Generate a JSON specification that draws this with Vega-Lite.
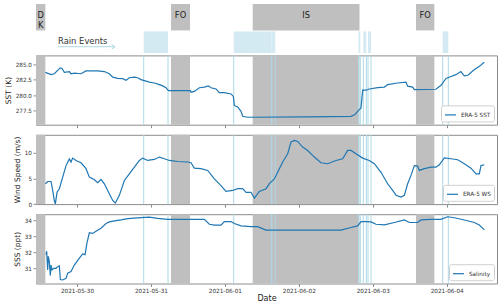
{
  "$schema": "https://vega.github.io/schema/vega-lite/v6.json",
  "padding": {"left": 3, "top": 4, "right": 4, "bottom": 2},
  "bounds": "flush",
  "spacing": 9.4,
  "config": {
    "font": "DejaVu Sans",
    "view": {"stroke": "#8c8c8c", "strokeWidth": 1},
    "axis": {"grid": false, "domain": false, "tickColor": "#8c8c8c", "tickSize": 3, "labelFontSize": 5.7, "labelColor": "#333333", "titleFontSize": 7.5, "titleFontWeight": "normal", "titleColor": "#222222", "labelPadding": 1.5, "titlePadding": 3},
    "legend": {"orient": "bottom-right", "offset": 3, "padding": 3, "fillColor": "#ffffff", "strokeColor": "#d0d0d0", "cornerRadius": 2, "labelFontSize": 5.7, "labelColor": "#333333", "symbolType": "stroke", "symbolStrokeWidth": 1.2, "symbolSize": 121, "title": null, "labelOffset": 4}
  },
  "datasets": {
    "phases": [
      {"phase": "D\nK", "start": "2021-05-29T10:41", "end": "2021-05-29T13:43", "mid": "2021-05-29T12:12"},
      {"phase": "FO", "start": "2021-05-31T06:31", "end": "2021-05-31T12:41", "mid": "2021-05-31T09:36"},
      {"phase": "IS", "start": "2021-06-01T09:02", "end": "2021-06-02T19:42", "mid": "2021-06-02T02:22"},
      {"phase": "FO", "start": "2021-06-03T14:02", "end": "2021-06-03T20:00", "mid": "2021-06-03T17:01"}
    ],
    "rain": [
      {"start": "2021-05-30T21:39", "end": "2021-05-31T05:32"},
      {"start": "2021-06-01T02:52", "end": "2021-06-01T15:12"},
      {"start": "2021-06-01T15:12", "end": "2021-06-01T16:22"},
      {"start": "2021-06-02T19:23", "end": "2021-06-02T19:58"},
      {"start": "2021-06-02T20:56", "end": "2021-06-02T21:55"},
      {"start": "2021-06-02T22:28", "end": "2021-06-02T23:26"},
      {"start": "2021-06-03T22:42", "end": "2021-06-04T00:32"}
    ],
    "sst": [
      {"t": "2021-05-29T13:43", "v": 283.67}, {"t": "2021-05-29T15:34", "v": 283.3}, {"t": "2021-05-29T16:38", "v": 283.45},
      {"t": "2021-05-29T17:43", "v": 284.0}, {"t": "2021-05-29T18:35", "v": 284.4}, {"t": "2021-05-29T19:08", "v": 284.3},
      {"t": "2021-05-29T19:53", "v": 283.67}, {"t": "2021-05-29T21:31", "v": 283.8}, {"t": "2021-05-29T22:03", "v": 283.45},
      {"t": "2021-05-29T23:08", "v": 283.55}, {"t": "2021-05-30T01:18", "v": 283.45}, {"t": "2021-05-30T02:55", "v": 283.9},
      {"t": "2021-05-30T04:32", "v": 283.9}, {"t": "2021-05-30T06:43", "v": 283.9}, {"t": "2021-05-30T08:52", "v": 283.8},
      {"t": "2021-05-30T10:30", "v": 283.45}, {"t": "2021-05-30T11:35", "v": 282.9}, {"t": "2021-05-30T13:12", "v": 282.7},
      {"t": "2021-05-30T14:49", "v": 282.65}, {"t": "2021-05-30T15:55", "v": 282.4}, {"t": "2021-05-30T16:59", "v": 282.8},
      {"t": "2021-05-30T18:37", "v": 282.9}, {"t": "2021-05-30T19:41", "v": 282.8}, {"t": "2021-05-30T20:46", "v": 282.5},
      {"t": "2021-05-30T21:52", "v": 282.35}, {"t": "2021-05-30T23:29", "v": 282.1}, {"t": "2021-05-31T01:06", "v": 281.96},
      {"t": "2021-05-31T02:44", "v": 281.7}, {"t": "2021-05-31T03:49", "v": 281.5}, {"t": "2021-05-31T04:53", "v": 281.2},
      {"t": "2021-05-31T05:39", "v": 280.74}, {"t": "2021-05-31T12:47", "v": 280.74}, {"t": "2021-05-31T13:00", "v": 280.48},
      {"t": "2021-05-31T14:05", "v": 280.6}, {"t": "2021-05-31T15:43", "v": 281.2}, {"t": "2021-05-31T17:20", "v": 281.3},
      {"t": "2021-05-31T18:38", "v": 281.5}, {"t": "2021-05-31T19:30", "v": 281.2}, {"t": "2021-05-31T21:07", "v": 281.0},
      {"t": "2021-05-31T22:12", "v": 280.4}, {"t": "2021-05-31T23:49", "v": 280.4}, {"t": "2021-06-01T01:59", "v": 280.2},
      {"t": "2021-06-01T02:45", "v": 279.8}, {"t": "2021-06-01T03:04", "v": 278.35}, {"t": "2021-06-01T04:09", "v": 278.1},
      {"t": "2021-06-01T05:14", "v": 277.4}, {"t": "2021-06-01T05:47", "v": 276.6}, {"t": "2021-06-01T07:24", "v": 276.45},
      {"t": "2021-06-02T02:52", "v": 276.5}, {"t": "2021-06-02T16:56", "v": 276.6}, {"t": "2021-06-02T18:14", "v": 276.9},
      {"t": "2021-06-02T19:06", "v": 277.4}, {"t": "2021-06-02T20:11", "v": 277.95}, {"t": "2021-06-02T20:44", "v": 280.8},
      {"t": "2021-06-02T21:49", "v": 280.8}, {"t": "2021-06-02T22:53", "v": 281.0}, {"t": "2021-06-03T01:36", "v": 281.2},
      {"t": "2021-06-03T03:46", "v": 281.3}, {"t": "2021-06-03T04:50", "v": 281.7}, {"t": "2021-06-03T08:05", "v": 281.96},
      {"t": "2021-06-03T10:47", "v": 282.1}, {"t": "2021-06-03T11:20", "v": 281.45}, {"t": "2021-06-03T12:58", "v": 281.3},
      {"t": "2021-06-03T13:30", "v": 280.9}, {"t": "2021-06-03T20:30", "v": 280.95}, {"t": "2021-06-03T22:10", "v": 281.6},
      {"t": "2021-06-03T23:47", "v": 282.7}, {"t": "2021-06-04T01:24", "v": 283.0}, {"t": "2021-06-04T03:00", "v": 283.3},
      {"t": "2021-06-04T04:36", "v": 283.8}, {"t": "2021-06-04T05:43", "v": 283.1}, {"t": "2021-06-04T06:54", "v": 283.2},
      {"t": "2021-06-04T08:54", "v": 284.1}, {"t": "2021-06-04T10:30", "v": 284.6}, {"t": "2021-06-04T12:12", "v": 285.3}
    ],
    "ws": [
      {"t": "2021-05-29T13:43", "v": 3.96}, {"t": "2021-05-29T14:29", "v": 4.4}, {"t": "2021-05-29T15:34", "v": 4.4},
      {"t": "2021-05-29T16:06", "v": 2.66}, {"t": "2021-05-29T16:38", "v": 0.7}, {"t": "2021-05-29T16:58", "v": 0.06},
      {"t": "2021-05-29T17:31", "v": 2.3}, {"t": "2021-05-29T18:16", "v": 3.0}, {"t": "2021-05-29T19:21", "v": 5.26},
      {"t": "2021-05-29T20:26", "v": 7.5}, {"t": "2021-05-29T21:31", "v": 8.8}, {"t": "2021-05-29T22:03", "v": 8.2},
      {"t": "2021-05-29T22:35", "v": 8.96}, {"t": "2021-05-29T23:40", "v": 8.5}, {"t": "2021-05-30T01:18", "v": 8.05},
      {"t": "2021-05-30T02:55", "v": 6.9}, {"t": "2021-05-30T04:00", "v": 5.26}, {"t": "2021-05-30T05:38", "v": 4.74},
      {"t": "2021-05-30T06:43", "v": 4.16}, {"t": "2021-05-30T07:47", "v": 4.8}, {"t": "2021-05-30T08:52", "v": 3.96},
      {"t": "2021-05-30T09:57", "v": 2.66}, {"t": "2021-05-30T11:35", "v": 0.7}, {"t": "2021-05-30T12:26", "v": 0.2},
      {"t": "2021-05-30T13:44", "v": 1.7}, {"t": "2021-05-30T15:22", "v": 4.6}, {"t": "2021-05-30T16:59", "v": 5.9},
      {"t": "2021-05-30T18:37", "v": 7.2}, {"t": "2021-05-30T20:14", "v": 8.5}, {"t": "2021-05-30T21:19", "v": 8.96},
      {"t": "2021-05-30T22:56", "v": 8.5}, {"t": "2021-05-31T01:06", "v": 8.7}, {"t": "2021-05-31T02:44", "v": 9.16},
      {"t": "2021-05-31T04:21", "v": 8.83}, {"t": "2021-05-31T05:58", "v": 8.5}, {"t": "2021-05-31T08:41", "v": 8.3},
      {"t": "2021-05-31T11:55", "v": 8.2}, {"t": "2021-05-31T13:00", "v": 8.05}, {"t": "2021-05-31T14:05", "v": 7.0},
      {"t": "2021-05-31T16:15", "v": 6.9}, {"t": "2021-05-31T18:25", "v": 6.56}, {"t": "2021-05-31T20:35", "v": 4.9},
      {"t": "2021-05-31T22:44", "v": 3.6}, {"t": "2021-06-01T00:22", "v": 2.47}, {"t": "2021-06-01T02:32", "v": 2.66},
      {"t": "2021-06-01T04:09", "v": 3.0}, {"t": "2021-06-01T05:47", "v": 3.0}, {"t": "2021-06-01T06:52", "v": 2.3},
      {"t": "2021-06-01T08:29", "v": 2.3}, {"t": "2021-06-01T09:34", "v": 1.17}, {"t": "2021-06-01T11:11", "v": 2.47},
      {"t": "2021-06-01T13:21", "v": 3.0}, {"t": "2021-06-01T14:26", "v": 4.0}, {"t": "2021-06-01T16:03", "v": 4.9},
      {"t": "2021-06-01T17:41", "v": 6.9}, {"t": "2021-06-01T18:46", "v": 8.2}, {"t": "2021-06-01T20:23", "v": 9.8},
      {"t": "2021-06-01T21:28", "v": 12.1}, {"t": "2021-06-01T22:33", "v": 12.4}, {"t": "2021-06-01T23:38", "v": 12.2},
      {"t": "2021-06-02T01:15", "v": 11.1}, {"t": "2021-06-02T02:52", "v": 10.45}, {"t": "2021-06-02T05:02", "v": 9.16},
      {"t": "2021-06-02T07:12", "v": 8.05}, {"t": "2021-06-02T09:22", "v": 7.86}, {"t": "2021-06-02T12:04", "v": 8.5},
      {"t": "2021-06-02T14:14", "v": 8.83}, {"t": "2021-06-02T15:52", "v": 10.45}, {"t": "2021-06-02T16:56", "v": 10.45},
      {"t": "2021-06-02T18:34", "v": 9.8}, {"t": "2021-06-02T20:44", "v": 8.96}, {"t": "2021-06-02T22:53", "v": 8.5},
      {"t": "2021-06-03T00:31", "v": 7.86}, {"t": "2021-06-03T02:41", "v": 6.2}, {"t": "2021-06-03T04:50", "v": 3.96},
      {"t": "2021-06-03T06:28", "v": 2.66}, {"t": "2021-06-03T07:33", "v": 1.7}, {"t": "2021-06-03T09:10", "v": 1.36},
      {"t": "2021-06-03T10:15", "v": 1.7}, {"t": "2021-06-03T11:20", "v": 3.96}, {"t": "2021-06-03T12:25", "v": 5.6},
      {"t": "2021-06-03T13:30", "v": 7.5}, {"t": "2021-06-03T14:35", "v": 7.4}, {"t": "2021-06-03T15:07", "v": 6.56},
      {"t": "2021-06-03T16:44", "v": 6.9}, {"t": "2021-06-03T18:55", "v": 7.2}, {"t": "2021-06-03T20:32", "v": 7.2},
      {"t": "2021-06-03T21:37", "v": 7.66}, {"t": "2021-06-03T23:14", "v": 9.0}, {"t": "2021-06-04T01:24", "v": 8.83},
      {"t": "2021-06-04T03:34", "v": 8.64}, {"t": "2021-06-04T05:44", "v": 7.86}, {"t": "2021-06-04T07:53", "v": 7.0},
      {"t": "2021-06-04T09:31", "v": 5.9}, {"t": "2021-06-04T10:36", "v": 5.9}, {"t": "2021-06-04T11:08", "v": 7.5},
      {"t": "2021-06-04T12:13", "v": 7.66}
    ],
    "sss": [
      {"t": "2021-05-29T13:56", "v": 31.85}, {"t": "2021-05-29T14:09", "v": 32.07}, {"t": "2021-05-29T14:16", "v": 31.64},
      {"t": "2021-05-29T14:29", "v": 30.9}, {"t": "2021-05-29T14:41", "v": 31.75}, {"t": "2021-05-29T15:01", "v": 31.4},
      {"t": "2021-05-29T15:20", "v": 30.55}, {"t": "2021-05-29T15:34", "v": 31.2}, {"t": "2021-05-29T15:53", "v": 30.9},
      {"t": "2021-05-29T16:26", "v": 31.0}, {"t": "2021-05-29T17:11", "v": 31.0}, {"t": "2021-05-29T17:43", "v": 31.1},
      {"t": "2021-05-29T18:16", "v": 31.15}, {"t": "2021-05-29T18:35", "v": 30.3}, {"t": "2021-05-29T19:21", "v": 30.27},
      {"t": "2021-05-29T20:26", "v": 30.37}, {"t": "2021-05-29T20:58", "v": 30.7}, {"t": "2021-05-29T22:03", "v": 30.8},
      {"t": "2021-05-29T23:08", "v": 31.2}, {"t": "2021-05-30T00:46", "v": 31.64}, {"t": "2021-05-30T01:50", "v": 31.9},
      {"t": "2021-05-30T02:36", "v": 31.85}, {"t": "2021-05-30T03:15", "v": 32.6}, {"t": "2021-05-30T04:00", "v": 33.22},
      {"t": "2021-05-30T05:05", "v": 33.18}, {"t": "2021-05-30T06:10", "v": 33.32}, {"t": "2021-05-30T07:47", "v": 33.5},
      {"t": "2021-05-30T09:25", "v": 33.8}, {"t": "2021-05-30T10:30", "v": 33.9}, {"t": "2021-05-30T12:07", "v": 33.96},
      {"t": "2021-05-30T14:17", "v": 34.02}, {"t": "2021-05-30T16:27", "v": 34.1}, {"t": "2021-05-30T20:46", "v": 34.16},
      {"t": "2021-05-30T23:29", "v": 34.2}, {"t": "2021-05-31T02:11", "v": 34.12}, {"t": "2021-05-31T05:26", "v": 34.06},
      {"t": "2021-05-31T17:20", "v": 34.06}, {"t": "2021-05-31T18:58", "v": 33.75}, {"t": "2021-05-31T20:35", "v": 33.7},
      {"t": "2021-05-31T22:44", "v": 33.7}, {"t": "2021-05-31T23:49", "v": 33.92}, {"t": "2021-06-01T01:59", "v": 33.92},
      {"t": "2021-06-01T03:04", "v": 33.8}, {"t": "2021-06-01T05:14", "v": 33.65}, {"t": "2021-06-01T08:29", "v": 33.6},
      {"t": "2021-06-01T10:38", "v": 33.6}, {"t": "2021-06-01T13:21", "v": 33.39}, {"t": "2021-06-02T13:41", "v": 33.39},
      {"t": "2021-06-02T16:56", "v": 33.55}, {"t": "2021-06-02T19:06", "v": 33.65}, {"t": "2021-06-02T20:11", "v": 33.92},
      {"t": "2021-06-02T21:49", "v": 33.92}, {"t": "2021-06-02T23:26", "v": 33.9}, {"t": "2021-06-03T01:04", "v": 33.75},
      {"t": "2021-06-03T03:46", "v": 33.71}, {"t": "2021-06-03T07:01", "v": 33.86}, {"t": "2021-06-03T10:15", "v": 34.02},
      {"t": "2021-06-03T11:53", "v": 33.86}, {"t": "2021-06-03T14:35", "v": 33.86}, {"t": "2021-06-03T15:40", "v": 34.02},
      {"t": "2021-06-03T18:55", "v": 34.06}, {"t": "2021-06-03T22:09", "v": 34.06}, {"t": "2021-06-04T00:19", "v": 34.22},
      {"t": "2021-06-04T02:29", "v": 34.16}, {"t": "2021-06-04T05:44", "v": 34.02}, {"t": "2021-06-04T08:58", "v": 33.86},
      {"t": "2021-06-04T10:36", "v": 33.7}, {"t": "2021-06-04T12:13", "v": 33.4}
    ]
  },
  "vconcat": [
    {
      "width": 461,
      "height": 42,
      "view": {"stroke": null},
      "layer": [
        {
          "data": {"name": "phases"},
          "mark": {"type": "rect", "fill": "#bfbfbf"},
          "encoding": {
            "x": {"field": "start", "type": "temporal", "axis": null, "scale": {"domain": [{"year": 2021, "month": 5, "date": 29, "hours": 10, "minutes": 41}, {"year": 2021, "month": 6, "date": 4, "hours": 16, "minutes": 20}]}},
            "x2": {"field": "end"},
            "y": {"datum": 1, "type": "quantitative", "axis": null, "scale": {"domain": [0, 1], "nice": false, "zero": false}},
            "y2": {"datum": 0.371}
          }
        },
        {
          "data": {"name": "phases"},
          "mark": {"type": "text", "fontSize": 8.3, "color": "#222222", "align": "center", "baseline": "middle", "lineBreak": "\n", "lineHeight": 9.5},
          "encoding": {
            "x": {"field": "mid", "type": "temporal"},
            "y": {"datum": 0.705, "type": "quantitative"},
            "text": {"field": "phase"}
          }
        },
        {
          "data": {"name": "rain"},
          "mark": {"type": "rect", "fill": "#d4eaf2"},
          "encoding": {
            "x": {"field": "start", "type": "temporal"},
            "x2": {"field": "end"},
            "y": {"datum": 0.348, "type": "quantitative"},
            "y2": {"datum": -0.167}
          }
        },
        {
          "data": {"values": [{}]},
          "mark": {"type": "text", "text": "Rain Events", "fontSize": 8.4, "color": "#333333", "align": "left", "baseline": "middle"},
          "encoding": {
            "x": {"datum": {"year": 2021, "month": 5, "date": 29, "hours": 17, "minutes": 50}, "type": "temporal"},
            "y": {"datum": 0.126, "type": "quantitative"}
          }
        },
        {
          "data": {"values": [{}]},
          "mark": {"type": "rule", "stroke": "#add8e6", "strokeWidth": 1},
          "encoding": {
            "x": {"datum": {"year": 2021, "month": 5, "date": 29, "hours": 17, "minutes": 50}, "type": "temporal"},
            "x2": {"datum": {"year": 2021, "month": 5, "date": 30, "hours": 12, "minutes": 20}},
            "y": {"datum": -0.017, "type": "quantitative"}
          }
        },
        {
          "data": {"values": [{}]},
          "mark": {"type": "point", "shape": "M-1,-0.7L0,0L-1,0.7", "filled": false, "stroke": "#add8e6", "strokeWidth": 1, "size": 40, "opacity": 1},
          "encoding": {
            "x": {"datum": {"year": 2021, "month": 5, "date": 30, "hours": 12, "minutes": 20}, "type": "temporal"},
            "y": {"datum": -0.017, "type": "quantitative"}
          }
        }
      ]
    },
    {
      "width": 461,
      "height": 69.3,
      "layer": [
        {
          "data": {"name": "phases"},
          "mark": {"type": "rect", "fill": "#bfbfbf"},
          "encoding": {
            "x": {"field": "start", "type": "temporal", "axis": {"labels": false, "title": null, "tickCount": {"interval": "day", "step": 1}}, "scale": {"domain": [{"year": 2021, "month": 5, "date": 29, "hours": 10, "minutes": 41}, {"year": 2021, "month": 6, "date": 4, "hours": 16, "minutes": 20}]}},
            "x2": {"field": "end"}
          }
        },
        {
          "data": {"name": "rain"},
          "mark": {"type": "rule", "stroke": "#add8e6", "strokeWidth": 1},
          "encoding": {"x": {"field": "start", "type": "temporal"}}
        },
        {
          "data": {"name": "rain"},
          "mark": {"type": "rule", "stroke": "#add8e6", "strokeWidth": 1},
          "encoding": {"x": {"field": "end", "type": "temporal"}}
        },
        {
          "data": {"name": "sst"},
          "mark": {"type": "line", "strokeWidth": 1.2},
          "encoding": {
            "x": {"field": "t", "type": "temporal"},
            "y": {"field": "v", "type": "quantitative", "title": "SST (K)", "scale": {"domain": [275.25, 286.4], "nice": false, "zero": false}, "axis": {"values": [277.5, 280, 282.5, 285], "format": ".1f"}},
            "color": {"datum": "ERA-5 SST", "scale": {"range": ["#1f77b4"]}}
          }
        }
      ]
    },
    {
      "width": 461,
      "height": 69.3,
      "layer": [
        {
          "data": {"name": "phases"},
          "mark": {"type": "rect", "fill": "#bfbfbf"},
          "encoding": {
            "x": {"field": "start", "type": "temporal", "axis": {"labels": false, "title": null, "tickCount": {"interval": "day", "step": 1}}, "scale": {"domain": [{"year": 2021, "month": 5, "date": 29, "hours": 10, "minutes": 41}, {"year": 2021, "month": 6, "date": 4, "hours": 16, "minutes": 20}]}},
            "x2": {"field": "end"}
          }
        },
        {
          "data": {"name": "rain"},
          "mark": {"type": "rule", "stroke": "#add8e6", "strokeWidth": 1},
          "encoding": {"x": {"field": "start", "type": "temporal"}}
        },
        {
          "data": {"name": "rain"},
          "mark": {"type": "rule", "stroke": "#add8e6", "strokeWidth": 1},
          "encoding": {"x": {"field": "end", "type": "temporal"}}
        },
        {
          "data": {"name": "ws"},
          "mark": {"type": "line", "strokeWidth": 1.2},
          "encoding": {
            "x": {"field": "t", "type": "temporal"},
            "y": {"field": "v", "type": "quantitative", "title": "Wind Speed (m/s)", "scale": {"domain": [0, 13.5], "nice": false, "zero": false}, "axis": {"values": [0, 5, 10]}},
            "color": {"datum": "ERA-5 WS", "scale": {"range": ["#1f77b4"]}}
          }
        }
      ]
    },
    {
      "width": 461,
      "height": 69.3,
      "layer": [
        {
          "data": {"name": "phases"},
          "mark": {"type": "rect", "fill": "#bfbfbf"},
          "encoding": {
            "x": {"field": "start", "type": "temporal", "axis": {"title": "Date", "titleFontSize": 8, "titlePadding": 2, "labelPadding": 0.5, "format": "%Y-%m-%d", "tickCount": {"interval": "day", "step": 1}, "labelFlush": false}, "scale": {"domain": [{"year": 2021, "month": 5, "date": 29, "hours": 10, "minutes": 41}, {"year": 2021, "month": 6, "date": 4, "hours": 16, "minutes": 20}]}},
            "x2": {"field": "end"}
          }
        },
        {
          "data": {"name": "rain"},
          "mark": {"type": "rule", "stroke": "#add8e6", "strokeWidth": 1},
          "encoding": {"x": {"field": "start", "type": "temporal"}}
        },
        {
          "data": {"name": "rain"},
          "mark": {"type": "rule", "stroke": "#add8e6", "strokeWidth": 1},
          "encoding": {"x": {"field": "end", "type": "temporal"}}
        },
        {
          "data": {"name": "sss"},
          "mark": {"type": "line", "strokeWidth": 1.2},
          "encoding": {
            "x": {"field": "t", "type": "temporal"},
            "y": {"field": "v", "type": "quantitative", "title": "SSS (ppt)", "scale": {"domain": [30.05, 34.38], "nice": false, "zero": false}, "axis": {"values": [31, 32, 33, 34]}},
            "color": {"datum": "Salinity", "scale": {"range": ["#1f77b4"]}}
          }
        }
      ]
    }
  ],
  "resolve": {"scale": {"color": "independent", "y": "independent"}, "legend": {"color": "independent"}}
}
